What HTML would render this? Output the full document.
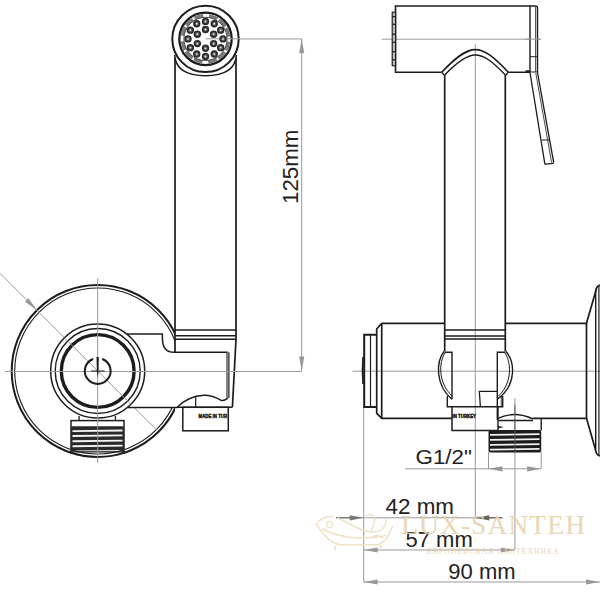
<!DOCTYPE html><html><head><meta charset="utf-8"><style>html,body{margin:0;padding:0;background:#fff;width:600px;height:600px;overflow:hidden}svg{display:block}</style></head><body><svg width="600" height="600" viewBox="0 0 600 600"><defs><clipPath id="cl1"><rect x="0" y="0" width="175" height="600"/></clipPath><clipPath id="cl2"><rect x="70" y="450" width="55" height="10"/></clipPath></defs><g clip-path="url(#cl1)" fill="none" stroke="#1c1c1c"><circle cx="97.7" cy="371" r="86" stroke-width="2"/><circle cx="97.7" cy="371" r="83" stroke-width="1.1"/></g><g stroke="#999999" stroke-width="1" fill="none"><line x1="0" y1="273.3" x2="157" y2="430.3"/><line x1="205.5" y1="38.9" x2="301.7" y2="38.9"/><line x1="301.7" y1="38.8" x2="301.7" y2="371"/></g><polygon points="301.7,38.8 304.3,53.3 299.1,53.3" fill="#999999"/><polygon points="301.7,371.0 299.1,356.5 304.3,356.5" fill="#999999"/><polygon points="37.3,310.6 24.9,301.8 28.5,298.2" fill="#999999"/><path d="M127,334 L162.3,334 L162.5,340 Q163,352.3 174,352.3 L227.2,352.3 L227.2,398.7 Q224,401 221.3,400.4 Q212,395 203.8,395.2 Q188,396 177,407.4 L128,407.4" fill="#fff" stroke="#1c1c1c" stroke-width="1.5"/><rect x="227.2" y="352.3" width="1.8" height="46" fill="#999"/><line x1="229" y1="352.3" x2="229" y2="398" stroke="#1c1c1c" stroke-width="1"/><line x1="195.7" y1="397" x2="195.7" y2="407.3" stroke="#1c1c1c" stroke-width="1.2"/><line x1="177" y1="407.3" x2="232.4" y2="407.3" stroke="#1c1c1c" stroke-width="1.5"/><path d="M175,58 L175,352.3 M236,58 L236,339.3 L232.4,407.3" fill="none" stroke="#1c1c1c" stroke-width="1.7"/><g stroke="#1c1c1c" stroke-width="1.4"><line x1="175" y1="330" x2="236" y2="330"/><line x1="175" y1="335.7" x2="236" y2="335.7"/><line x1="175" y1="339.3" x2="236" y2="339.3"/></g><rect x="182.8" y="407.3" width="45.5" height="23.5" fill="#fff" stroke="#1c1c1c" stroke-width="1.5"/><text x="198.6" y="418.5" font-family="Liberation Sans" font-weight="bold" font-size="6.2" fill="#111" stroke="#111" stroke-width="0.45" textLength="28.5" dy="-0.4" lengthAdjust="spacingAndGlyphs">MADE IN TUR</text><circle cx="97.7" cy="371" r="47" fill="#fff" stroke="#1c1c1c" stroke-width="1.5"/><g fill="none" stroke="#1c1c1c"><circle cx="97.7" cy="371" r="42.5" stroke-width="1.4"/><circle cx="97.7" cy="371" r="36.4" stroke-width="3.4"/></g><path d="M79.1,416 L79.1,420.6 M115.4,416 L115.4,420.6" stroke="#1c1c1c" stroke-width="1.3"/><rect x="71" y="420.6" width="53" height="31" fill="#fff" stroke="#1c1c1c" stroke-width="1.5"/><rect x="71" y="426.3" width="53" height="25" rx="1.5" fill="#2a2a2a"/><line x1="72.5" y1="431.1" x2="122.5" y2="430.5" stroke="#f4f4f4" stroke-width="1.9"/><line x1="72.5" y1="436" x2="122.5" y2="435.4" stroke="#f4f4f4" stroke-width="1.9"/><line x1="72.5" y1="441.2" x2="122.5" y2="440.59999999999997" stroke="#f4f4f4" stroke-width="1.9"/><line x1="72.5" y1="446.2" x2="122.5" y2="445.59999999999997" stroke="#f4f4f4" stroke-width="1.9"/><path d="M71,451.5 L124,451.5 L124,458 L71,458 Z" fill="#fff"/><line x1="73" y1="451.2" x2="122" y2="450.8" stroke="#f4f4f4" stroke-width="1.6"/><g clip-path="url(#cl2)" fill="none" stroke="#1c1c1c"><circle cx="97.7" cy="371" r="86" stroke-width="2"/><circle cx="97.7" cy="371" r="83" stroke-width="1.1"/></g><line x1="71" y1="451.8" x2="124" y2="451.8" stroke="#1c1c1c" stroke-width="1.3"/><g stroke="#999999" stroke-width="1" fill="none"><line x1="5" y1="371.5" x2="301.7" y2="371.5"/><line x1="97.7" y1="278.3" x2="97.7" y2="463"/><line x1="64.5" y1="337.8" x2="131" y2="404.3"/></g><path d="M102.95,359.22 A12.9,12.9 0 1 1 92.45,359.22" fill="none" stroke="#1c1c1c" stroke-width="2" stroke-linecap="round"/><path d="M96.5,357 L98.8,357 L98.5,372 L97.7,377.5 L96.9,372 Z" fill="#1c1c1c"/><line x1="91" y1="371" x2="104.7" y2="371" stroke="#333" stroke-width="1.1"/><path d="M174.6,55 Q176,75.7 205.5,75.7 Q235,75.7 236.4,55" fill="#fff" stroke="#1c1c1c" stroke-width="1.6"/><circle cx="205.5" cy="38.9" r="33.2" fill="#fff" stroke="#1c1c1c" stroke-width="2"/><circle cx="205.5" cy="38.9" r="26.2" fill="none" stroke="#1c1c1c" stroke-width="2.3"/><circle cx="205.5" cy="38.9" r="23.4" fill="none" stroke="#7a7a7a" stroke-width="3.2" stroke-dasharray="8.9 2 8.9 2 8.9 6" stroke-dashoffset="33.7"/><circle cx="205.5" cy="38.9" r="21.6" fill="none" stroke="#1c1c1c" stroke-width="0.8"/><line x1="205.5" y1="38.8" x2="240" y2="38.8" stroke="#999999" stroke-width="1"/><circle cx="205.50" cy="21.40" r="3.7" fill="#2a2a2a"/><circle cx="205.50" cy="21.40" r="2.1" fill="#5a5a5a"/><circle cx="205.50" cy="21.40" r="0.9" fill="#eee"/><circle cx="214.25" cy="23.74" r="3.7" fill="#2a2a2a"/><circle cx="214.25" cy="23.74" r="2.1" fill="#5a5a5a"/><circle cx="214.25" cy="23.74" r="0.9" fill="#eee"/><circle cx="220.66" cy="30.15" r="3.7" fill="#2a2a2a"/><circle cx="220.66" cy="30.15" r="2.1" fill="#5a5a5a"/><circle cx="220.66" cy="30.15" r="0.9" fill="#eee"/><circle cx="223.00" cy="38.90" r="3.7" fill="#2a2a2a"/><circle cx="223.00" cy="38.90" r="2.1" fill="#5a5a5a"/><circle cx="223.00" cy="38.90" r="0.9" fill="#eee"/><circle cx="220.66" cy="47.65" r="3.7" fill="#2a2a2a"/><circle cx="220.66" cy="47.65" r="2.1" fill="#5a5a5a"/><circle cx="220.66" cy="47.65" r="0.9" fill="#eee"/><circle cx="214.25" cy="54.06" r="3.7" fill="#2a2a2a"/><circle cx="214.25" cy="54.06" r="2.1" fill="#5a5a5a"/><circle cx="214.25" cy="54.06" r="0.9" fill="#eee"/><circle cx="205.50" cy="56.40" r="3.7" fill="#2a2a2a"/><circle cx="205.50" cy="56.40" r="2.1" fill="#5a5a5a"/><circle cx="205.50" cy="56.40" r="0.9" fill="#eee"/><circle cx="196.75" cy="54.06" r="3.7" fill="#2a2a2a"/><circle cx="196.75" cy="54.06" r="2.1" fill="#5a5a5a"/><circle cx="196.75" cy="54.06" r="0.9" fill="#eee"/><circle cx="190.34" cy="47.65" r="3.7" fill="#2a2a2a"/><circle cx="190.34" cy="47.65" r="2.1" fill="#5a5a5a"/><circle cx="190.34" cy="47.65" r="0.9" fill="#eee"/><circle cx="188.00" cy="38.90" r="3.7" fill="#2a2a2a"/><circle cx="188.00" cy="38.90" r="2.1" fill="#5a5a5a"/><circle cx="188.00" cy="38.90" r="0.9" fill="#eee"/><circle cx="190.34" cy="30.15" r="3.7" fill="#2a2a2a"/><circle cx="190.34" cy="30.15" r="2.1" fill="#5a5a5a"/><circle cx="190.34" cy="30.15" r="0.9" fill="#eee"/><circle cx="196.75" cy="23.74" r="3.7" fill="#2a2a2a"/><circle cx="196.75" cy="23.74" r="2.1" fill="#5a5a5a"/><circle cx="196.75" cy="23.74" r="0.9" fill="#eee"/><circle cx="205.50" cy="29.50" r="3.7" fill="#2a2a2a"/><circle cx="205.50" cy="29.50" r="2.1" fill="#5a5a5a"/><circle cx="205.50" cy="29.50" r="0.9" fill="#eee"/><circle cx="213.64" cy="34.20" r="3.7" fill="#2a2a2a"/><circle cx="213.64" cy="34.20" r="2.1" fill="#5a5a5a"/><circle cx="213.64" cy="34.20" r="0.9" fill="#eee"/><circle cx="213.64" cy="43.60" r="3.7" fill="#2a2a2a"/><circle cx="213.64" cy="43.60" r="2.1" fill="#5a5a5a"/><circle cx="213.64" cy="43.60" r="0.9" fill="#eee"/><circle cx="205.50" cy="48.30" r="3.7" fill="#2a2a2a"/><circle cx="205.50" cy="48.30" r="2.1" fill="#5a5a5a"/><circle cx="205.50" cy="48.30" r="0.9" fill="#eee"/><circle cx="197.36" cy="43.60" r="3.7" fill="#2a2a2a"/><circle cx="197.36" cy="43.60" r="2.1" fill="#5a5a5a"/><circle cx="197.36" cy="43.60" r="0.9" fill="#eee"/><circle cx="197.36" cy="34.20" r="3.7" fill="#2a2a2a"/><circle cx="197.36" cy="34.20" r="2.1" fill="#5a5a5a"/><circle cx="197.36" cy="34.20" r="0.9" fill="#eee"/><text transform="translate(298.4,204) rotate(-90)" font-family="Liberation Sans" font-size="22.3" fill="#222">125mm</text><g stroke="#999999" stroke-width="1" fill="none"><line x1="381.7" y1="39.2" x2="540.8" y2="39.2"/><line x1="352.5" y1="371.2" x2="600" y2="371.2"/><line x1="475.3" y1="44" x2="475.3" y2="518"/><line x1="514.9" y1="398" x2="514.9" y2="550"/><line x1="363.7" y1="407" x2="363.7" y2="582"/><line x1="488.5" y1="452" x2="488.5" y2="468.8"/><line x1="541.2" y1="452" x2="541.2" y2="468.8"/><line x1="405" y1="468.8" x2="541.2" y2="468.8"/><line x1="350" y1="517.8" x2="475.3" y2="517.8"/><line x1="363.7" y1="550" x2="514.9" y2="550"/><line x1="363.7" y1="582" x2="600" y2="582"/></g><polygon points="488.5,468.8 502.5,466.2 502.5,471.4" fill="#999999"/><polygon points="541.2,468.8 527.2,471.4 527.2,466.2" fill="#999999"/><line x1="336" y1="517.8" x2="352" y2="517.8" stroke="#555" stroke-width="1.2"/><polygon points="363.7,517.8 349.7,520.4 349.7,515.2" fill="#777"/><line x1="475.3" y1="517.8" x2="502.5" y2="517.8" stroke="#444" stroke-width="1.2"/><polygon points="475.3,517.8 489.3,515.2 489.3,520.4" fill="#666"/><polygon points="363.7,550.0 377.7,547.4 377.7,552.6" fill="#999999"/><polygon points="514.9,550.0 500.9,552.6 500.9,547.4" fill="#999999"/><polygon points="363.7,582.0 377.7,579.4 377.7,584.6" fill="#999999"/><polygon points="600.0,582.0 586.0,584.6 586.0,579.4" fill="#999999"/><path d="M530,6 L395.5,6 L395.5,72.3 L441.7,72.3 M508.3,72.3 L530,72.3" fill="none" stroke="#1c1c1c" stroke-width="1.6"/><rect x="392.2" y="12.2" width="3.4" height="53.5" fill="#bbb" stroke="#1c1c1c" stroke-width="1.1"/><line x1="392.2" y1="16.7" x2="395.6" y2="16.7" stroke="#1c1c1c" stroke-width="1.2"/><line x1="392.2" y1="24.3" x2="395.6" y2="24.3" stroke="#1c1c1c" stroke-width="1.2"/><line x1="392.2" y1="34.2" x2="395.6" y2="34.2" stroke="#1c1c1c" stroke-width="1.2"/><line x1="392.2" y1="42.3" x2="395.6" y2="42.3" stroke="#1c1c1c" stroke-width="1.2"/><line x1="392.2" y1="51.7" x2="395.6" y2="51.7" stroke="#1c1c1c" stroke-width="1.2"/><line x1="392.2" y1="59.8" x2="395.6" y2="59.8" stroke="#1c1c1c" stroke-width="1.2"/><path d="M530,72.3 L530,6 L535.5,6 Q537.5,6 537.5,8 L537.5,72.3 Z" fill="#fff" stroke="#1c1c1c" stroke-width="1.4"/><line x1="535.6" y1="7" x2="535.6" y2="72" stroke="#1c1c1c" stroke-width="0.8"/><line x1="530" y1="56.7" x2="537.5" y2="56.7" stroke="#1c1c1c" stroke-width="1"/><rect x="525.5" y="70.3" width="4.5" height="2.2" fill="#1c1c1c"/><line x1="525" y1="39.2" x2="540.8" y2="39.2" stroke="#999999" stroke-width="1"/><path d="M441.7,72.3 C456,57 466,49.6 475.3,49.6 C484.6,49.6 494,57 508.3,72.3" fill="none" stroke="#1c1c1c" stroke-width="1.6"/><path d="M444.4,75.3 C458,61 467,55 475.3,55 C483.6,55 492,61 505.6,75.3" fill="none" stroke="#1c1c1c" stroke-width="1.4"/><line x1="441.7" y1="72.3" x2="444.4" y2="75.3" stroke="#1c1c1c" stroke-width="1.3"/><line x1="508.3" y1="72.3" x2="505.6" y2="75.3" stroke="#1c1c1c" stroke-width="1.3"/><path d="M530,72.5 L544.8,163.5 Q545,164.2 546,164.2 L552.8,163.3 Q553.8,163 553.6,162 L537.5,72.5" fill="#fff" stroke="#1c1c1c" stroke-width="1.3"/><line x1="535.8" y1="73" x2="551.6" y2="162.5" stroke="#1c1c1c" stroke-width="0.8"/><line x1="542" y1="140" x2="549.8" y2="140" stroke="#1c1c1c" stroke-width="1"/><path d="M381.7,323.3 L444.7,323.3 M505.3,323.3 L586.5,323.3 L586.5,418.3 L533,418.3 M452,418.3 L381.7,418.3 L376.7,413.3 L376.7,329 L381.7,323.3 M381.7,323.3 L381.7,418.3" fill="none" stroke="#1c1c1c" stroke-width="1.7"/><path d="M376.7,334.7 L364.2,334.7 L364.2,407 L376.7,407" fill="none" stroke="#1c1c1c" stroke-width="2"/><line x1="370.5" y1="334.7" x2="370.5" y2="407" stroke="#1c1c1c" stroke-width="1.2"/><path d="M363,357 Q362,371 363,384" fill="none" stroke="#1c1c1c" stroke-width="1.6"/><path d="M586.5,323.3 L595.5,292 Q596.5,285 600.5,285 M586.5,418.3 L595,448 Q596,456 600.5,456" fill="none" stroke="#1c1c1c" stroke-width="1.7"/><line x1="595.7" y1="289" x2="595.7" y2="452" stroke="#1c1c1c" stroke-width="1.4"/><line x1="598.9" y1="286" x2="598.9" y2="455" stroke="#1c1c1c" stroke-width="1.2"/><path d="M444.7,75.3 L444.7,351.3 M505.3,75.3 L505.3,351.3" fill="none" stroke="#1c1c1c" stroke-width="1.7"/><g stroke="#1c1c1c" stroke-width="1.4"><line x1="444.7" y1="330" x2="505.3" y2="330"/><line x1="444.7" y1="336" x2="505.3" y2="336"/><line x1="444.7" y1="339" x2="505.3" y2="339"/></g><path d="M444.2,351.3 C436,361.5 435,385 452,399.3" fill="none" stroke="#1c1c1c" stroke-width="1.4"/><path d="M445.4,352.4 C438.5,362 438,383 452,395.8" fill="none" stroke="#1c1c1c" stroke-width="1"/><path d="M444.7,352.3 L452,352.3 L452,399.3" fill="none" stroke="#1c1c1c" stroke-width="1.4"/><path d="M505.8,351.3 C515,361.5 517,385 497.3,399.3" fill="none" stroke="#1c1c1c" stroke-width="1.4"/><path d="M504.6,352.4 C511.5,362 512.5,383 498.5,396" fill="none" stroke="#1c1c1c" stroke-width="1"/><path d="M505.3,352.3 L497.3,352.3 L497.3,420" fill="none" stroke="#1c1c1c" stroke-width="1.4"/><path d="M447.3,396 L447.3,406.7 L502.7,406.7 L502.7,396" fill="none" stroke="#1c1c1c" stroke-width="1.4"/><line x1="501.3" y1="396" x2="501.3" y2="406.7" stroke="#1c1c1c" stroke-width="0.8"/><path d="M480.4,406.7 L479.3,391.3 L497.3,391.3" fill="none" stroke="#1c1c1c" stroke-width="1.3"/><path d="M452,406.7 L452,430.5 L498,430.5" fill="none" stroke="#1c1c1c" stroke-width="1.5"/><text x="452.5" y="418" font-family="Liberation Sans" font-weight="bold" font-size="5.8" fill="#111" stroke="#111" stroke-width="0.45" textLength="23.5" lengthAdjust="spacingAndGlyphs">IN TURKEY</text><path d="M498,418.3 Q515,410.5 533,419" fill="#fff" stroke="#1c1c1c" stroke-width="1.4"/><path d="M541.2,418.3 L541.2,430.5 M498,420.5 L533,420.5 M498,407 L498,430.5" fill="none" stroke="#1c1c1c" stroke-width="1.4"/><polygon points="498,426 504,427 498,428.5" fill="#1c1c1c"/><rect x="488.5" y="430" width="52.7" height="22.5" rx="2" fill="#1c1c1c"/><line x1="490" y1="434.9" x2="539.5" y2="434.1" stroke="#f2f2f2" stroke-width="1.8"/><line x1="490" y1="439.9" x2="539.5" y2="439.1" stroke="#f2f2f2" stroke-width="1.8"/><line x1="490" y1="444.9" x2="539.5" y2="444.1" stroke="#f2f2f2" stroke-width="1.8"/><line x1="490" y1="449.59999999999997" x2="539.5" y2="448.8" stroke="#f2f2f2" stroke-width="1.8"/><line x1="514.9" y1="405" x2="514.9" y2="452" stroke="#555" stroke-width="1"/><text x="415.5" y="464" font-family="Liberation Sans" font-size="20.5" fill="#222" textLength="56.5" lengthAdjust="spacingAndGlyphs">G1/2"</text><text x="385.6" y="514.4" font-family="Liberation Sans" font-size="22.4" fill="#222">42 mm</text><text x="405.5" y="546.7" font-family="Liberation Sans" font-size="22" fill="#222">57 mm</text><text x="448.3" y="578.7" font-family="Liberation Sans" font-size="22" fill="#222">90 mm</text><g opacity="0.9"><text x="401" y="534" font-family="Liberation Serif" font-size="27.5" fill="#e8d3ad" textLength="184" lengthAdjust="spacing">LUX-SANTEH</text><text x="427" y="553.8" font-family="Liberation Serif" font-size="7.6" fill="#e8d3ad" textLength="131.6" lengthAdjust="spacing">ЕВРОПЕЙСКАЯ САНТЕХНИКА</text><path d="M316,524.5 C322,530 326,542 340,544.7 L377.5,544.7 C386,543 390,533 392.5,526 M316,524.5 C319,519 326,516 333,516.5 M322,528.5 C336,537 360,541 386,535.5 M337,517.7 C350,523 358,531 371,532 C380,533 386,528 386.5,519 M365.5,518 C367,513.5 373,513 374.5,518.5 C375.5,523 372,528 371,531 M336,545 L334.5,550.5 M380.5,545 L382,550.5 M372,537 C376,534 380,536 383,538" fill="none" stroke="#eedfc2" stroke-width="1.5"/><circle cx="329.5" cy="524.5" r="3" fill="none" stroke="#eedfc2" stroke-width="1.2"/></g></svg></body></html>
